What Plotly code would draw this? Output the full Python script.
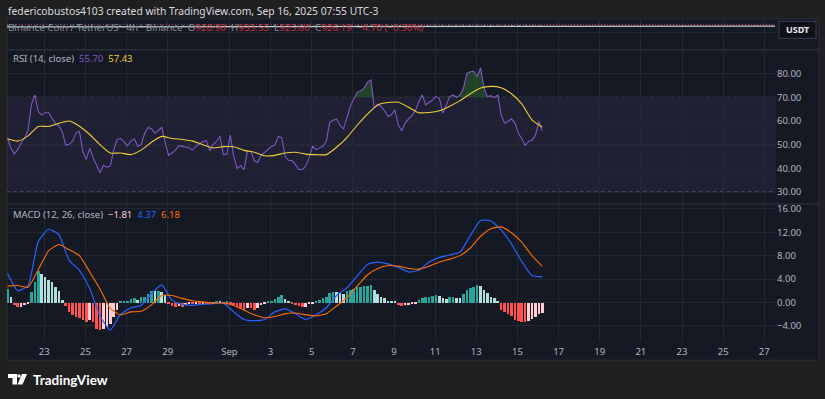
import plotly.graph_objects as go
import pandas as pd

# ---------------- data ----------------
bar_times = pd.date_range("2025-08-21 05:00", periods=157, freq="4h")

rsi = [52.8, 48.6, 46.1, 47.9, 50.7, 52.8, 56.0, 67.0, 71.0, 64.0,
       62.5, 63.5, 63.5, 61.0, 58.9, 57.9, 55.5, 49.8, 50.2, 51.5,
       55.0, 55.6, 47.0, 43.8, 48.5, 44.5, 40.9, 38.1, 41.3, 40.5,
       41.0, 47.8, 52.2, 52.6, 51.2, 49.5, 51.5, 52.5, 49.3, 50.0,
       54.7, 57.3, 56.7, 54.9, 56.0, 57.3, 51.0, 45.5, 46.5, 47.7,
       49.6, 49.2, 48.9, 48.7, 47.7, 49.4, 50.2, 51.3, 51.7, 47.5,
       50.0, 51.4, 53.5, 45.8, 46.0, 54.0, 45.0, 40.0, 41.2, 39.5,
       47.2, 47.0, 43.2, 42.5, 45.5, 46.7, 47.9, 49.2, 49.9, 53.5,
       53.0, 45.0, 43.4, 43.3, 41.6, 39.5, 39.5, 40.9, 44.4, 49.3,
       47.9, 48.6, 49.3, 51.4, 59.4, 60.3, 60.9, 58.1, 56.7, 61.2,
       66.1, 69.3, 72.1, 72.7, 73.8, 76.3, 77.3, 65.4, 67.1, 66.1,
       64.3, 61.9, 62.6, 64.7, 58.4, 55.9, 59.1, 60.9, 62.3, 64.4,
       68.2, 71.0, 66.8, 67.9, 68.9, 70.3, 69.6, 63.3, 67.1, 70.3,
       71.0, 69.9, 71.0, 73.8, 80.1, 80.8, 81.0, 78.7, 82.5, 73.8,
       70.3, 70.7, 69.9, 71.0, 62.6, 59.1, 59.8, 60.9, 59.1, 54.9,
       52.5, 49.7, 51.4, 51.9, 53.9, 59.8, 55.70]

# RSI moving average, read every third bar
rsi_ma = [52.5, 51.5, 53.7, 57.7, 57.7, 59.0, 60.0, 57.8, 54.3, 50.0,
          46.5, 46.5, 45.8, 47.7, 51.0, 53.5, 52.6, 52.2, 51.5, 50.0,
          48.6, 49.2, 49.1, 47.6, 46.8, 45.3, 45.5, 46.5, 46.8, 46.0,
          45.8, 45.8, 48.9, 53.0, 58.2, 62.9, 66.8, 67.8, 67.9, 65.8,
          63.5, 63.6, 64.3, 66.2, 68.6, 71.5, 73.9, 74.6, 74.0, 71.5,
          67.2, 60.5, 57.43]

macd_hist = [2.3, 1.0, -0.4, -0.8, -0.7, -0.4, -0.2, 1.8, 3.5, 5.3,
             4.8, 4.4, 3.9, 3.5, 2.7, 1.9, 0.4, -0.6, -1.7, -2.2,
             -2.5, -2.7, -3.0, -3.4, -3.0, -3.3, -4.6, -4.7, -4.5, -4.2,
             -3.6, -2.5, -1.2, 0.1, 0.2, 0.3, 0.6, 0.8, 0.5, 0.9,
             1.0, 1.5, 2.0, 1.9, 1.9, 1.8, 1.2, -0.2, -0.6, -0.8,
             -0.6, -0.7, -0.4, -0.2, -0.3, -0.2, -0.2, -0.1, -0.1, -0.2,
             -0.1, 0.2, 0.1, -0.1, 0.1, -0.2, -0.4, -0.7, -1.0, -1.2,
             -0.9, -1.0, -1.2, -0.9, -0.5, -0.3, 0.1, 0.3, 0.6, 1.0,
             1.2, 0.6, 0.3, -0.1, -0.4, -0.6, -0.8, -0.7, -0.3, -0.1,
             0.2, 0.5, 0.7, 1.0, 1.6, 1.8, 1.75, 1.6, 1.5, 1.9,
             2.2, 2.3, 2.6, 2.7, 2.8, 2.9, 2.95, 2.1, 1.5, 1.0,
             0.7, 0.3, 0.2, 0.1, -0.4, -0.6, -0.5, -0.4, -0.2, -0.1,
             0.4, 0.8, 0.9, 1.0, 1.1, 1.2, 1.1, 0.7, 0.6, 0.9,
             1.0, 0.8, 0.7, 1.5, 2.1, 2.4, 2.6, 3.0, 2.9, 2.1,
             1.6, 1.0, 0.7, 0.3, -1.2, -1.7, -1.9, -2.3, -2.9, -3.1,
             -3.3, -3.35, -3.1, -2.8, -2.4, -2.0, -1.81]

# MACD and signal lines, read every third bar
macd_line = [5.0, 2.0, 2.9, 10.4, 12.5, 11.6, 7.2, 5.5, 2.4, -2.3,
             -4.7, -2.0, -0.9, -0.5, 1.5, 3.0, 0.4, -0.3, -0.5, -0.3,
             -0.2, -0.1, -1.6, -2.9, -3.1, -2.9, -1.6, -1.1, -1.9, -2.9,
             -2.1, -0.9, 1.2, 2.5, 4.5, 6.5, 6.9, 6.6, 6.0, 5.2,
             5.5, 6.9, 7.7, 8.1, 8.6, 11.4, 14.0, 13.9, 12.4, 10.0,
             7.0, 4.6, 4.37]
signal_line = [2.8, 2.9, 2.6, 5.6, 8.8, 9.9, 9.0, 8.0, 5.2, 2.3,
               -1.0, -2.1, -1.6, -1.5, -0.4, 1.2, 1.2, 0.7, 0.3, 0.1,
               -0.1, -0.1, -0.5, -1.3, -2.1, -2.6, -2.4, -1.9, -1.8, -2.1,
               -2.3, -1.9, -0.6, 0.8, 2.8, 4.7, 5.8, 6.3, 6.2, 5.8,
               5.7, 6.2, 6.9, 7.4, 8.0, 9.3, 11.3, 12.6, 12.9, 11.9,
               10.3, 8.0, 6.18]

tick_dates = ["2025-08-23", "2025-08-25", "2025-08-27", "2025-08-29",
              "2025-09-01", "2025-09-03", "2025-09-05", "2025-09-07",
              "2025-09-09", "2025-09-11", "2025-09-13", "2025-09-15",
              "2025-09-17", "2025-09-19", "2025-09-21", "2025-09-23",
              "2025-09-25", "2025-09-27"]
tick_labels = ["23", "25", "27", "29", "Sep", "3", "5", "7", "9", "11",
               "13", "15", "17", "19", "21", "23", "25", "27"]
rsi_ticks = [30, 40, 50, 60, 70, 80]
macd_ticks = [-4, 0, 4, 8, 12, 16]

# ---------------- styling ----------------
W, H = 825, 399
def PX(p):
    return p / W
def PY(p):
    return 1 - p / H

OUTER = "#1f1f1f"
BG = "#151924"
GRID = "#232733"
SEP = "#2a2e39"
TXT = "#b2b5be"
FONT = "Noto Sans, Roboto, sans-serif"

ma_times = bar_times[::3]

# histogram colours (TradingView convention)
hist_colors = []
prev = 0.0
for v in macd_hist:
    if v >= 0:
        hist_colors.append("#26a69a" if v >= prev else "#b2dfdb")
    else:
        hist_colors.append("#ff5252" if v <= prev else "#ffcdd2")
    prev = v

fig = go.Figure()

# ---- RSI pane ----
fig.add_trace(go.Scatter(x=bar_times, y=[70] * len(rsi), yaxis="y",
                         mode="lines", line=dict(width=0), hoverinfo="skip",
                         showlegend=False))
fig.add_trace(go.Scatter(x=bar_times, y=[max(v, 70) for v in rsi], yaxis="y",
                         mode="lines", line=dict(width=0), fill="tonexty",
                         fillcolor="rgba(46,125,50,0.42)", hoverinfo="skip",
                         showlegend=False))
fig.add_trace(go.Scatter(x=bar_times, y=rsi, yaxis="y", mode="lines",
                         line=dict(color="#7e57c2", width=1.1),
                         showlegend=False))
fig.add_trace(go.Scatter(x=ma_times, y=rsi_ma, yaxis="y", mode="lines",
                         line=dict(color="#f0cc36", width=1.1, shape="spline",
                                   smoothing=0.6),
                         showlegend=False))

# ---- MACD pane ----
fig.add_trace(go.Bar(x=bar_times, y=macd_hist, yaxis="y2",
                     marker=dict(color=hist_colors, line=dict(width=0)),
                     width=4 * 3600 * 1000 * 0.72, showlegend=False))
fig.add_trace(go.Scatter(x=ma_times, y=macd_line, yaxis="y2", mode="lines",
                         line=dict(color="#2962ff", width=1.2, shape="spline",
                                   smoothing=0.5),
                         showlegend=False))
fig.add_trace(go.Scatter(x=ma_times, y=signal_line, yaxis="y2", mode="lines",
                         line=dict(color="#ff6d00", width=1.1, shape="spline",
                                   smoothing=0.5),
                         showlegend=False))

# ---- top (price) pane placeholder for its grid ----
fig.add_trace(go.Scatter(x=[bar_times[0], bar_times[-1]], y=[None, None],
                         yaxis="y3", mode="lines", showlegend=False,
                         hoverinfo="skip"))

shapes = []
# chart frame background
shapes.append(dict(type="rect", xref="paper", yref="paper",
                   x0=PX(7), x1=PX(819), y0=PY(360), y1=PY(17),
                   fillcolor=BG, line=dict(color="#2a2e39", width=1),
                   layer="below"))
# RSI band and levels
shapes.append(dict(type="rect", xref="x", yref="y",
                   x0=bar_times[0] - pd.Timedelta(hours=2), x1="2025-09-28",
                   y0=30, y1=70, fillcolor="rgba(126,87,194,0.11)",
                   line=dict(width=0), layer="below"))
for lv in (70, 50, 30):
    shapes.append(dict(type="line", xref="x", yref="y",
                       x0=bar_times[0] - pd.Timedelta(hours=2), x1="2025-09-28",
                       y0=lv, y1=lv,
                       line=dict(color="#6a6d78", width=1, dash="4px,3px"),
                       layer="below"))
# MACD zero line
shapes.append(dict(type="line", xref="x", yref="y2",
                   x0=bar_times[0] - pd.Timedelta(hours=2), x1="2025-09-28",
                   y0=0, y1=0,
                   line=dict(color="#5d606b", width=1, dash="4px,3px"),
                   layer="below"))
# pane separators
for yy in (48, 203):
    shapes.append(dict(type="line", xref="paper", yref="paper",
                       x0=PX(7), x1=PX(819), y0=PY(yy), y1=PY(yy),
                       line=dict(color=SEP, width=1.5)))
# squashed price pane lines
shapes.append(dict(type="line", xref="paper", yref="paper",
                   x0=PX(7), x1=PX(775), y0=PY(22.5), y1=PY(22.5),
                   line=dict(color="#d33a4a", width=1, dash="1px,2px")))
shapes.append(dict(type="line", xref="paper", yref="paper",
                   x0=PX(7), x1=PX(540), y0=PY(23.5), y1=PY(23.5),
                   line=dict(color="#1f8a7e", width=1, dash="2px,5px")))
shapes.append(dict(type="line", xref="paper", yref="paper",
                   x0=PX(7), x1=PX(775), y0=PY(25), y1=PY(24.2),
                   line=dict(color="#c8cad0", width=1.2)))
# USDT box
shapes.append(dict(type="rect", xref="paper", yref="paper",
                   x0=PX(779), x1=PX(816), y0=PY(36.5), y1=PY(19.5),
                   fillcolor="#0f1118", line=dict(color="#3a3e4a", width=1)))

# TradingView logo
def path(points):
    return "M " + " L ".join(f"{PX(a):.5f},{PY(b):.5f}" for a, b in points) + " Z"
shapes.append(dict(type="path", xref="paper", yref="paper",
                   path=path([(8, 374), (17, 374), (17, 384.5), (12.5, 384.5),
                              (12.5, 378), (8, 378)]),
                   fillcolor="#ffffff", line=dict(width=0)))
shapes.append(dict(type="circle", xref="paper", yref="paper",
                   x0=PX(17.3), x1=PX(20.7), y0=PY(377.6), y1=PY(374.2),
                   fillcolor="#ffffff", line=dict(width=0)))
shapes.append(dict(type="path", xref="paper", yref="paper",
                   path=path([(22, 374), (27, 374), (22.5, 384.5), (17.5, 384.5)]),
                   fillcolor="#ffffff", line=dict(width=0)))

annotations = []
def note(x, y, text, size=10, color=TXT, anchor="left", family=FONT):
    annotations.append(dict(xref="paper", yref="paper", x=PX(x), y=PY(y),
                            text=text, showarrow=False, xanchor=anchor,
                            yanchor="middle",
                            font=dict(size=size, color=color, family=family)))

note(6, 9, "federicobustos4103 created with TradingView.com, Sep 16, 2025 07:55 UTC-3",
     size=10.3, color="#d9dbe0")
R = "#c2323f"
note(6, 26,
     "<span style='color:#8a8d96'>Binance Coin / TetherUS · 4h · Binance  O</span>"
     f"<span style='color:{R}'>920.90</span>"
     "<span style='color:#8a8d96'>  H</span>"
     f"<span style='color:{R}'>933.55</span>"
     "<span style='color:#8a8d96'>  L</span>"
     f"<span style='color:{R}'>925.60</span>"
     "<span style='color:#8a8d96'>  C</span>"
     f"<span style='color:{R}'>926.19  −4.70 (−0.50%)</span>",
     size=9.8, color="#8a8d96")
note(797.5, 28, "<b>USDT</b>", size=9, color="#e6e7ea", anchor="center")
note(11, 57,
     "RSI (14, close)  <span style='color:#7e57c2'>55.70</span>  "
     "<span style='color:#f0cc36'>57.43</span>", size=9.5, color=TXT)
note(11, 214,
     "MACD (12, 26, close)  <span style='color:#ffcdd2'>−1.81</span>  "
     "<span style='color:#2962ff'>4.37</span>  "
     "<span style='color:#ff6d00'>6.18</span>", size=9.5, color=TXT)
note(31, 380, "<b>TradingView</b>", size=13.5, color="#ffffff",
     family="Lato, Noto Sans, sans-serif")

x_left = pd.Timestamp("2025-08-21 04:29")
x_right = pd.Timestamp("2025-09-27 13:40")

fig.update_layout(
    width=W, height=H,
    margin=dict(l=0, r=0, t=0, b=0),
    paper_bgcolor=OUTER,
    plot_bgcolor=BG,
    font=dict(family=FONT, color=TXT, size=9.5),
    showlegend=False,
    bargap=0,
    shapes=shapes,
    annotations=annotations,
    xaxis=dict(domain=[PX(7), PX(776)], type="date", range=[x_left, x_right],
               anchor="y2", tickvals=tick_dates, ticktext=tick_labels,
               showgrid=True, gridcolor=GRID, gridwidth=1, zeroline=False,
               showline=False, ticks="", ticklabelstandoff=3,
               tickfont=dict(size=9.5, color=TXT)),
    yaxis=dict(domain=[PY(203), PY(48)], range=[24.96, 90.08], side="right",
               anchor="x", tickvals=rsi_ticks, tickformat=".2f",
               showgrid=True, gridcolor=GRID, zeroline=False, showline=False,
               ticks="", tickfont=dict(size=9.5, color=TXT)),
    yaxis2=dict(domain=[PY(341), PY(203)], range=[-6.62, 16.81], side="right",
                anchor="x", tickvals=macd_ticks, tickformat=".2f",
                showgrid=True, gridcolor=GRID, zeroline=False, showline=False,
                ticks="", tickfont=dict(size=9.5, color=TXT)),
    yaxis3=dict(domain=[PY(48), PY(17)], range=[0, 1], side="right",
                anchor="x", tickvals=[0.55], showticklabels=False,
                showgrid=True, gridcolor=GRID, zeroline=False, showline=False,
                ticks=""),
)

fig.write_html("out.html",
               config={"displayModeBar": False},
               post_script="document.body.style.margin='0px';"
                           "document.body.style.overflow='hidden';")
